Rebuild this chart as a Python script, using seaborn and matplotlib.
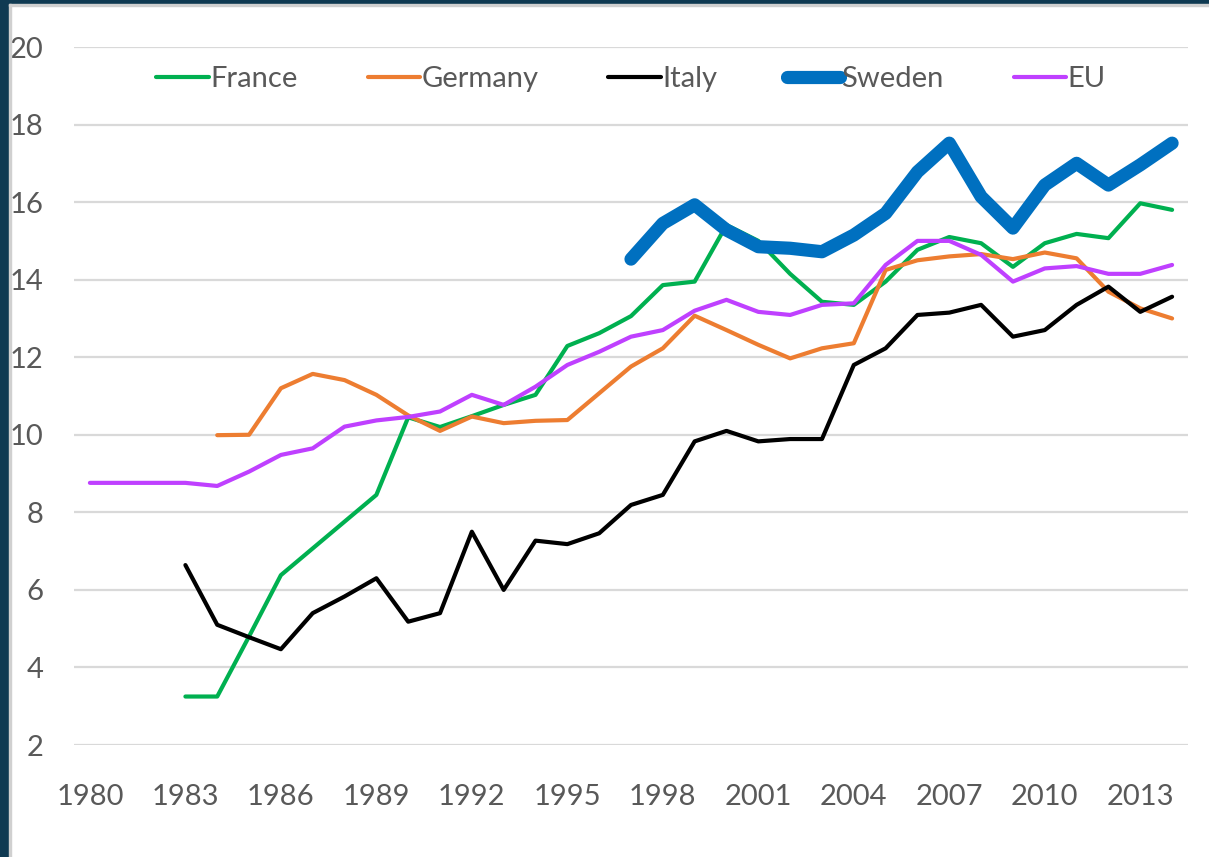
import pandas as pd
import numpy as np
import matplotlib.pyplot as plt
import seaborn as sns
from matplotlib.patches import Rectangle

# Werte
france_years = list(range(1983, 2015))
france = [3.25, 3.25, 4.8, 6.38, 7.07, 7.76, 8.45, 10.45, 10.2, 10.48, 10.77, 11.03,
          12.29, 12.62, 13.06, 13.86, 13.95, 15.41, 15.0, 14.15, 13.43, 13.35, 13.95,
          14.77, 15.1, 14.94, 14.33, 14.94, 15.18, 15.07, 15.97, 15.8]

germany_years = list(range(1984, 2015))
germany = [9.99, 10.0, 11.2, 11.57, 11.41, 11.03, 10.5, 10.1, 10.47, 10.3, 10.36, 10.38,
           11.07, 11.76, 12.23, 13.07, 12.7, 12.32, 11.97, 12.23, 12.36, 14.25, 14.5,
           14.6, 14.66, 14.53, 14.7, 14.55, 13.69, 13.26, 13.0]

italy_years = list(range(1983, 2015))
italy = [6.64, 5.1, 4.78, 4.47, 5.4, 5.83, 6.3, 5.18, 5.4, 7.5, 6.0, 7.27, 7.18, 7.46,
         8.19, 8.45, 9.83, 10.1, 9.83, 9.89, 9.89, 11.8, 12.23, 13.09, 13.15, 13.35,
         12.53, 12.7, 13.35, 13.82, 13.17, 13.56]

sweden_years = list(range(1997, 2015))
sweden = [14.53, 15.45, 15.93, 15.28, 14.85, 14.81, 14.72, 15.15, 15.71, 16.78, 17.52,
          16.14, 15.33, 16.44, 17.0, 16.44, 16.96, 17.52]

eu_years = list(range(1980, 2015))
eu = [8.76, 8.76, 8.76, 8.76, 8.68, 9.05, 9.48, 9.65, 10.21, 10.37, 10.46, 10.6, 11.03,
      10.77, 11.24, 11.8, 12.14, 12.53, 12.7, 13.2, 13.48, 13.17, 13.09, 13.35, 13.39,
      14.38, 15.0, 15.0, 14.64, 13.95, 14.29, 14.35, 14.15, 14.15, 14.38]

x_ticks = list(range(1980, 2014, 3))
y_ticks = list(range(2, 21, 2))

series = [
    ("France", france_years, france, "#00B050", 3.0),
    ("Germany", germany_years, germany, "#ED7D31", 3.0),
    ("Italy", italy_years, italy, "#000000", 3.0),
    ("Sweden", sweden_years, sweden, "#0070C0", 9.5),
    ("EU", eu_years, eu, "#BF40FF", 3.0),
]

sns.set_style("white")
plt.rcParams['font.family'] = ['Lato', 'DejaVu Sans']

fig = plt.figure(figsize=(12.09, 8.57), dpi=100)
ax = fig.add_axes([74 / 1209, 1 - 745 / 857, (1188 - 74) / 1209, (745 - 47) / 857])

for name, yrs, vals, col, lw in series:
    df = pd.DataFrame({"Jahr": yrs, "Wert": vals})
    sns.lineplot(data=df, x="Jahr", y="Wert", ax=ax, color=col, linewidth=lw,
                 label=name, solid_joinstyle="round", solid_capstyle="round")

ax.set_xlim(1979.5, 2014.5)
ax.set_ylim(2, 20)
ax.set_xticks(x_ticks)
ax.set_yticks(y_ticks)
ax.set_xlabel("")
ax.set_ylabel("")
ax.yaxis.grid(True, color="#D9D9D9", linewidth=1.6)
ax.set_axisbelow(True)
for s in ax.spines.values():
    s.set_visible(False)
ax.tick_params(axis="x", length=0, pad=28, labelsize=21, labelcolor="#595959")
ax.tick_params(axis="y", length=0, pad=22, labelsize=21, labelcolor="#595959")

leg = ax.legend(loc="upper center", bbox_to_anchor=(0.5, 1.0), ncol=5, frameon=False,
                fontsize=21, handlelength=1.8, handletextpad=0.05, columnspacing=2.4,
                borderaxespad=0.25)
for t in leg.get_texts():
    t.set_color("#595959")

# dunkler Rahmen oben und links
fig.patches.append(Rectangle((0, 1 - 4 / 857), 1, 4 / 857, transform=fig.transFigure,
                             color="#0F3A52", zorder=10))
fig.patches.append(Rectangle((0, 0), 9 / 1209, 1, transform=fig.transFigure,
                             color="#0F3A52", zorder=10))
fig.patches.append(Rectangle((9 / 1209, 0), 2 / 1209, 1 - 4 / 857, transform=fig.transFigure,
                             color="#D0D0D0", zorder=10))
fig.patches.append(Rectangle((9 / 1209, 1 - 6 / 857), 1, 2 / 857, transform=fig.transFigure,
                             color="#D0D0D0", zorder=10))

plt.savefig("out.png", dpi=100)
